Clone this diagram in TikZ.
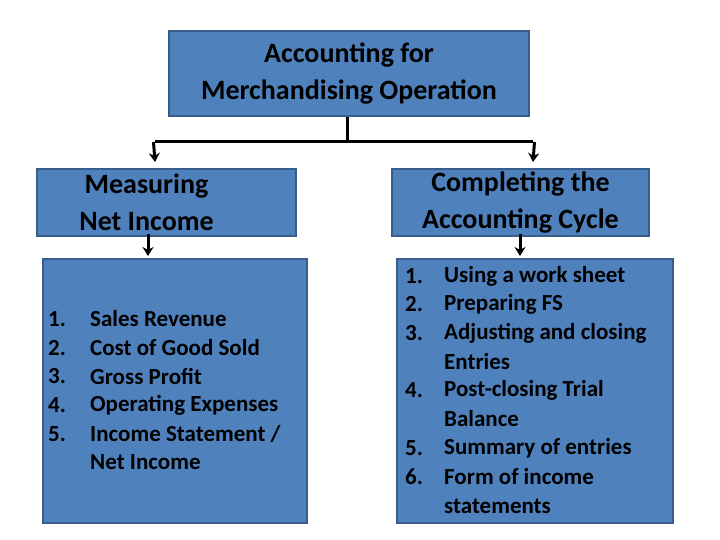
\documentclass[tikz,border=0pt]{standalone}
\usepackage{fontspec}
\setmainfont{Carlito}
\usetikzlibrary{arrows.meta}
\definecolor{boxfill}{HTML}{4F81BD}
\definecolor{boxline}{HTML}{385D8A}
\begin{document}
\begin{tikzpicture}[x=1bp,y=-1bp,
  box/.style={draw=boxline,line width=2bp,fill=boxfill,inner sep=0,anchor=north west},
  head/.style={font=\fontsize{28bp}{37bp}\selectfont\bfseries,align=center},
  item/.style={font=\fontsize{23bp}{28bp}\selectfont\bfseries,anchor=west,inner sep=0},
  conn/.style={line width=3bp,-{Stealth[length=9bp,width=11bp]}}]
\useasboundingbox (0,0) rectangle (720,540);
\node[box,minimum width=360bp,minimum height=85bp] (top) at (168,30) {};
\node[head] at (top.center) {Accounting for\\Merchandising Operation};
\node[box,minimum width=259bp,minimum height=67bp] (lh) at (36,168) {};
\node[head] at ([xshift=-20bp]lh.center) {Measuring\\Net Income};
\node[box,minimum width=257bp,minimum height=67bp] (rh) at (391,168) {};
\node[head] at (rh.center) {Completing the\\Accounting Cycle};
\node[box,minimum width=264bp,minimum height=264bp] (lb) at (42,258) {};
\node[box,minimum width=276bp,minimum height=264bp] (rb) at (396,258) {};
\coordinate (j) at (347,142);
\coordinate (jl) at (155,142);
\coordinate (jr) at (533,142);
\draw[line width=3bp] (top.south -| j) -- (j);
\draw[line width=3bp] (jl) -- (jr);
\draw[conn] ([xshift=-1.5bp]jl) -- (155,162);
\draw[conn] ([xshift=1.5bp]jr) -- (533,162);
\draw[conn] (148,234) -- (148,256);
\draw[conn] (520,234) -- (520,256);
\foreach \n/\t/\y in {1./Sales Revenue/319,2./Cost of Good Sold/348,3./Gross Profit/376,4./Operating Expenses/405,5./{Income Statement /}/434,/Net Income/462}{
  \node[item] at (48,\y) {\n};
  \node[item] at (90,\y) {\t};
}
\foreach \n/\t/\y in {1./Using a work sheet/276,2./Preparing FS/304,3./Adjusting and closing/333,/Entries/362,4./Post-closing Trial/390,/Balance/419,5./Summary of entries/448,6./Form of income/477,/statements/506}{
  \node[item] at (405,\y) {\n};
  \node[item] at (444,\y) {\t};
}
\end{tikzpicture}
\end{document}
